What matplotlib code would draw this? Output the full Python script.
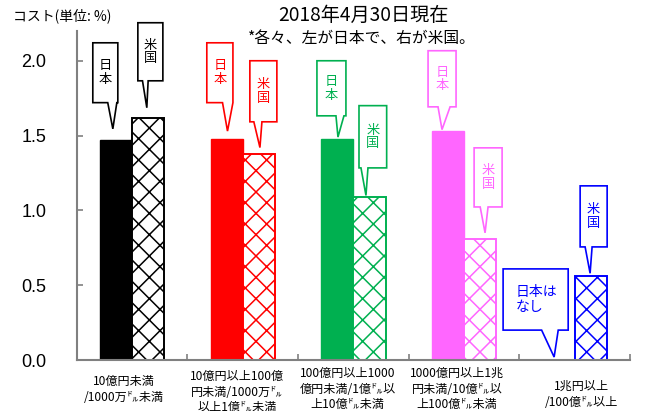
import numpy as np
import matplotlib.pyplot as plt
from matplotlib.patches import Polygon

# hatch spacing follows the dpi, so render at 64 dpi and scale point sizes up
DPI = 64
S = 100 / DPI

plt.rcParams['font.family'] = ['Liberation Sans', 'Noto Sans CJK JP']
plt.rcParams['hatch.linewidth'] = 1.1 * S

categories = ['10億円未満\n/1000万㌦未満',
              '10億円以上100億\n円未満/1000万㌦\n以上1億㌦未満',
              '100億円以上1000\n億円未満/1億㌦以\n上10億㌦未満',
              '1000億円以上1兆\n円未満/10億㌦以\n上100億㌦未満',
              '1兆円以上\n/100億㌦以上']
japan = [1.47, 1.48, 1.48, 1.53, np.nan]
usa = [1.62, 1.38, 1.09, 0.81, 0.56]
colors = ['black', '#FF0000', '#00B050', '#FF66FF', '#0000FF']

# label first-line top and x shift (pixels)
label_top = [375, 370, 367, 367, 380]
label_dx = [-8, -6, -6, -7, 7]

# callout layout: (x0, x1, top, bottom, base0, base1, tipdx, tipdy) offsets relative to bar centre
jp_call = [(-0.21, 0.016, 2.12, 1.72, -0.075, 0.007, -0.029, 0.075),
           (-0.18, 0.056, 2.12, 1.72, -0.038, 0.056, 0.007, 0.05),
           (-0.185, 0.077, 2.0, 1.632, -0.013, 0.059, 0.005, 0.01),
           (-0.181, 0.072, 2.067, 1.692, -0.091, 0.018, -0.055, 0.01),
           (-0.503, 0.085, 0.609, 0.20, -0.155, -0.005, -0.042, 0.02)]
us_call = [(-0.093, 0.133, 2.254, 1.866, -0.051, 0.0, -0.012, 0.066),
           (-0.081, 0.163, 2.0, 1.592, -0.045, 0.028, 0.01, 0.04),
           (-0.095, 0.155, 1.70, 1.284, -0.077, -0.014, -0.032, 0.01),
           (-0.055, 0.198, 1.418, 1.023, 0.0, 0.071, 0.044, 0.04),
           (-0.097, 0.147, 1.164, 0.756, -0.052, 0.011, -0.007, 0.02)]

fig = plt.figure(figsize=(645 / DPI, 411 / DPI), dpi=DPI)
ax = fig.add_axes([0.119, 0.124, 0.858, 0.801])

x = np.arange(len(categories))
w = 0.29
for i in range(len(categories)):
    c = colors[i]
    if not np.isnan(japan[i]):
        ax.bar(x[i] - w/2, japan[i], w, color=c, edgecolor=c, linewidth=1 * S)
    ax.bar(x[i] + w/2, usa[i], w, color='white', edgecolor=c, hatch='x', linewidth=1.4 * S)


def callout(cx, val, spec, text, color, vertical=True):
    x0, x1, top, bot, b0, b1, tdx, tdy = spec
    tip_y = (0 if np.isnan(val) else val) + tdy
    pts = [(cx + x0, top), (cx + x1, top), (cx + x1, bot), (cx + b1, bot),
           (cx + tdx, tip_y), (cx + b0, bot), (cx + x0, bot)]
    ax.add_patch(Polygon(pts, closed=True, facecolor='white', edgecolor=color,
                         linewidth=1.2 * S, clip_on=False, zorder=5))
    if vertical:
        ax.text(cx + (x0 + x1)/2, (top + bot)/2, text, color=color, fontsize=9.5 * S,
                ha='center', va='center', linespacing=1.05, zorder=6,
                family=['Noto Sans CJK JP'])
    else:
        ax.text(cx + x0 + 0.11, (top + bot)/2, text, color=color, fontsize=10 * S,
                ha='left', va='center', linespacing=1.1, zorder=6,
                family=['Noto Sans CJK JP'])


for i in range(len(categories)):
    c = colors[i]
    if i < 4:
        callout(x[i] - w/2, japan[i], jp_call[i], '日\n本', c)
    else:
        callout(x[i] - w/2, japan[i], jp_call[i], '日本は\nなし', c, vertical=False)
    callout(x[i] + w/2, usa[i], us_call[i], '米\n国', c)

ax.set_xlim(-0.5, 4.5)
ax.set_ylim(0, 2.2)
ax.set_yticks([0, 0.5, 1.0, 1.5, 2.0])
ax.set_yticklabels(['%.1f' % v for v in [0, 0.5, 1.0, 1.5, 2.0]], fontsize=13 * S)
ax.set_xticks(np.arange(-0.5, 5.0, 1.0))
ax.set_xticklabels([])
ax.tick_params(axis='both', direction='in', color='#808080', length=4 * S, width=1.2 * S)
ax.tick_params(axis='y', pad=22 * S)
for s in ['top', 'right']:
    ax.spines[s].set_visible(False)
for s in ['left', 'bottom']:
    ax.spines[s].set_color('#808080')
    ax.spines[s].set_linewidth(1.5 * S)

# category labels, placed in figure coords under each category centre
for i, lab in enumerate(categories):
    xp = ax.transData.transform((x[i], 0))[0] + label_dx[i]
    fig.text(xp / 645, 1 - label_top[i]/411, lab, fontsize=8.7 * S, ha='center', va='top',
             linespacing=1.27, family=['Noto Sans CJK JP'])

fig.text(363 / 645, 1 - 15 / 411, '2018年4月30日現在', fontsize=13.8 * S, ha='center',
         va='center', family=['Noto Sans CJK JP'])
fig.text(362 / 645, 1 - 39 / 411, '*各々、左が日本で、右が米国。', fontsize=11.3 * S,
         ha='center', va='center', family=['Noto Sans CJK JP'])
fig.text(13 / 645, 1 - 16 / 411, 'コスト(単位: %)', fontsize=10 * S, ha='left', va='center',
         family=['Noto Sans CJK JP'])

fig.savefig('out.png', dpi=DPI)
